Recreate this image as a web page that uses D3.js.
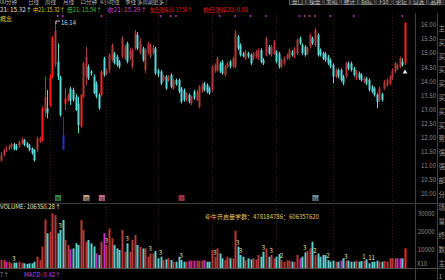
<!DOCTYPE html>
<html><head><meta charset="utf-8">
<script src="https://cdn.jsdelivr.net/npm/d3@7/dist/d3.min.js"></script>
<style>html,body{margin:0;padding:0;background:#000;overflow:hidden}svg{display:block}</style>
</head><body>
<svg id="c" width="445" height="280"></svg>
<script>
const opens = [
11.19,11.39,11.55,11.62,11.68,11.78,11.72,11.68,11.80,11.92,
11.80,11.74,11.63,11.57,11.57,11.88,11.90,12.93,13.05,13.16,
14.17,14.60,14.70,14.17,12.10,13.20,13.34,13.75,13.70,13.46,
13.22,12.40,13.46,14.17,14.52,14.35,14.17,13.93,13.52,13.52,
14.82,14.25,14.40,14.76,14.99,14.88,14.70,14.88,14.82,15.35,
14.82,14.52,15.17,15.65,14.99,15.17,14.40,15.00,
14.88,15.00,15.17,14.40,14.35,14.05,14.17,14.05,14.23,13.75,
14.05,14.05,13.75,13.70,13.34,13.52,13.22,13.64,13.34,13.10,
13.64,13.93,13.87,13.75,13.70,14.35,14.40,14.64,14.70,14.23,
14.52,14.70,14.52,14.52,15.59,15.29,14.99,14.82,15.00,14.94,
14.82,14.88,14.82,15.11,14.76,14.94,15.23,14.94,14.99,15.05,
14.99,14.52,14.64,14.82,14.82,15.05,14.88,15.00,15.53,
15.29,15.23,14.99,15.23,15.53,15.29,15.65,15.11,14.99,14.99,
14.88,14.76,14.58,14.17,14.40,14.40,14.17,14.17,14.64,14.64,
14.46,14.11,14.29,14.23,13.99,14.11,14.05,13.81,13.75,13.52,
13.34,13.55,13.75,13.87,13.93,14.11,14.35,14.45,14.52,14.70,14.64];
const closes = [
11.39,11.57,11.62,11.70,11.78,11.58,11.60,11.86,11.96,11.75,
11.68,11.57,11.45,11.21,11.98,11.96,13.05,13.45,12.87,14.17,
15.55,15.80,14.17,12.81,11.57,13.40,13.52,13.30,13.35,12.99,
12.45,13.52,14.64,14.88,14.11,14.28,13.58,13.46,13.05,14.35,
14.23,14.40,14.94,15.29,14.64,14.58,14.52,15.53,15.23,14.70,
15.10,15.11,15.71,15.17,15.45,14.76,15.11,15.35,
15.29,15.20,14.29,14.25,13.93,14.20,13.75,14.17,13.81,14.05,
13.90,13.64,13.28,13.34,13.58,13.28,13.46,13.40,13.64,13.81,
13.87,13.70,13.64,13.58,14.52,14.58,14.82,14.35,14.29,14.52,
14.64,14.52,14.82,15.71,15.17,14.94,14.90,15.05,14.88,14.64,
14.99,15.05,15.11,14.70,14.64,15.53,15.00,15.23,15.41,14.70,
14.52,14.76,14.82,14.94,15.11,14.94,15.17,15.47,15.35,
15.00,14.94,15.17,15.65,15.35,15.82,14.94,14.94,14.82,14.76,
14.64,14.52,14.17,14.40,14.17,14.05,13.93,14.64,14.46,14.40,
14.23,14.35,14.11,14.05,14.11,13.93,13.70,13.64,13.52,13.28,
13.75,13.35,13.99,14.05,14.17,14.40,14.64,14.58,14.82,14.58,16.07];
const highs = [
11.50,11.62,11.70,11.76,11.82,11.82,11.78,11.90,12.02,11.96,
11.85,11.78,11.66,11.60,12.04,12.05,13.10,14.17,13.70,14.25,
15.60,16.14,15.35,14.20,12.75,13.75,13.58,13.81,13.78,13.55,
13.46,13.55,14.70,15.23,14.60,14.40,14.25,14.00,13.58,14.40,
14.88,14.45,15.00,15.35,15.05,14.94,14.76,15.60,15.30,15.40,
15.20,15.17,15.82,15.75,15.53,15.23,15.17,15.40,
15.35,15.30,15.23,14.45,14.40,14.25,14.23,14.22,14.28,14.10,
14.10,14.10,13.80,13.75,13.62,13.58,13.50,13.70,13.70,13.87,
13.93,13.98,13.93,13.81,14.58,14.64,14.88,14.70,14.76,14.58,
14.70,14.76,14.88,15.82,15.65,15.35,15.05,15.11,15.05,14.99,
15.05,15.11,15.17,15.17,14.82,15.59,15.29,15.29,15.47,15.11,
15.05,14.82,14.88,14.99,15.17,15.11,15.23,15.53,15.59,
15.35,15.29,15.23,15.71,15.59,15.90,15.71,15.17,15.05,15.05,
14.94,14.82,14.64,14.46,14.46,14.46,14.23,14.70,14.70,14.70,
14.52,14.40,14.35,14.29,14.17,14.17,14.11,13.87,13.81,13.58,
13.81,13.60,14.05,14.11,14.23,14.46,14.70,14.64,14.88,14.82,16.10];
const lows = [
11.15,11.35,11.50,11.57,11.60,11.55,11.55,11.65,11.76,11.70,
11.64,11.52,11.40,11.15,11.50,11.82,11.85,12.75,12.69,13.10,
14.10,14.50,14.05,12.75,11.57,12.99,13.28,13.16,13.28,12.95,
12.16,12.35,13.40,13.87,14.05,14.20,13.55,13.40,12.99,13.46,
14.17,14.20,14.30,14.70,14.60,14.52,14.45,14.82,14.76,14.64,
14.76,14.45,15.11,15.11,14.95,14.70,14.30,14.95,
14.82,14.95,14.23,14.15,13.87,14.00,13.70,13.98,13.75,13.70,
13.85,13.58,13.22,13.28,13.28,13.22,13.16,13.34,13.30,13.05,
13.60,13.64,13.58,13.52,13.64,14.30,14.35,14.30,14.23,14.17,
14.46,14.46,14.46,14.46,15.11,14.88,14.85,14.76,14.82,14.58,
14.76,14.82,14.76,14.64,14.58,14.88,14.94,14.88,14.94,14.64,
14.46,14.46,14.58,14.76,14.76,14.88,14.82,14.94,15.29,
14.94,14.88,14.94,15.17,15.29,15.23,14.88,14.88,14.76,14.70,
14.58,14.46,13.93,14.11,14.11,13.99,13.87,14.11,14.40,14.35,
14.17,14.05,14.05,13.99,13.93,13.87,13.64,13.58,13.46,13.05,
13.28,13.28,13.70,13.81,13.87,14.05,14.29,14.40,14.46,14.52,14.58];
const volumes = [
4400,4400,3500,3500,2600,3000,3000,3500,3000,2600,
2200,2600,2600,3500,6300,4400,11900,27000,19300,20200,
30400,29400,19300,21100,26700,15600,12800,10400,10900,13700,
12800,26700,21100,14600,15600,13700,12000,8100,7200,14600,
19300,12800,22000,16500,12800,10900,10000,21100,9100,13700,
9100,15600,18300,12800,11900,10900,10900,6300,
8100,8100,9400,5400,6300,4400,4800,5400,4400,3500,
3500,6300,4400,3500,3500,4100,4100,4100,4100,4100,
4100,4400,3500,3500,10000,6300,10900,8100,5400,4400,
6300,5400,5400,20700,11900,7200,6300,4400,5400,4800,
5400,4800,7200,6300,9100,10900,6300,7200,5400,6300,
7800,4400,3500,4100,4100,3500,3500,7200,5400,
6300,8700,9400,10900,14600,7200,8100,6300,7200,7200,
4400,3500,4100,3500,3500,4100,5400,4100,4100,3500,
3500,4100,3500,3900,4100,4800,2600,3500,3500,4100,
3500,3500,3900,3500,5400,5400,5400,5400,5400,5400,10900];
const magentaDays = [2,27,37,40,73,75,79,116,132,154,155];
const blueDays = [24];
const volMarkIdx = [5,23,41,49,58,62,70,83,92,93,102,105,109,118,122,127,134,141,144];
const volMarkTxt = ["3","3","3","3","3","3","3","3","3","3","3","3","2","3","2","2","3","1","11"];
const topDotIdx = [22,24,39,62,66,68,85,91,97,103,116,118,120,122,128,137,156];
const signalIdx = [22,33,39,70,122];
const signalTxt = ["跌","腾","涨","1","财"];
const monthStarts = [19,41,61,82,107,129,152];
const priceTicks = [10,10.5,11,11.5,12,12.5,13,13.5,14,14.5,15,15.5,16];
const volTicks = [10000,20000,30000];
const sideChars = ["主","买","买","买","买","买","买","买","势","强","强","部","分","场","量","终","数","主","1"];
const tabsLeft = ["00分钟","日线","周线","月线","15分钟","4小时线","季线","多周期","更多 /"];
const tabsLeftX = [0,28,45,63,80,100,125,137,153];
const tabsRight = ["盘口","操盘","筹码","统计","指标","F10","论坛","自选","品种"];
const legendTxt = ["21: 15.32↑","中21: 15.32↑","低21: 15.54↑","收21: 15.29↑","前日涨停10: 17.58↑","前日涨停20: 0.00"];
const legendX = [0,33,67,107,150,203];
const legendW = [32,32,35,40,42,45];
const maxLabel = "16.14";
const volumeTitle = "VOLUME: 106350.28↑";
const groupText = "牵牛开启量学群：478184786：606357620";
const macdTitle = "MACD: 0.42↑";

const FONT = "'Noto Sans CJK SC','DejaVu Sans',sans-serif";
const legendCols = ["#e0e0e0","#e8d020","#40c040","#c040c0","#e02020","#e02020"];
const svg = d3.select('#c');
svg.append('rect').attr('width',445).attr('height',280).attr('fill','#000');
const N = opens.length;
const x = d3.scaleBand().domain(d3.range(N)).range([0,406]).paddingInner(0.25);
const cx = i => x(i) + x.bandwidth()/2;
const y = d3.scaleLinear().domain([10,16]).range([194.2,25]);
const yv = d3.scaleLinear().domain([0,30000]).range([268,214]);

// grid / separators
const g = svg.append('g');
g.selectAll('.vg').data(monthStarts).enter().append('line')
 .attr('x1',i=>Math.round(cx(i))+0.5).attr('x2',i=>Math.round(cx(i))+0.5)
 .attr('y1',14).attr('y2',268).attr('stroke','#3a1818').attr('stroke-dasharray','1,2');
g.append('line').attr('x1',0).attr('x2',445).attr('y1',203.5).attr('y2',203.5).attr('stroke','#3c3c3c');
g.append('line').attr('x1',0).attr('x2',445).attr('y1',268.5).attr('y2',268.5).attr('stroke','#505050');
g.append('line').attr('x1',415.5).attr('x2',415.5).attr('y1',13).attr('y2',280).attr('stroke','#404040');
g.append('line').attr('x1',437.5).attr('x2',437.5).attr('y1',13).attr('y2',280).attr('stroke','#404040');

// header tabs
const hdr = svg.append('g').attr('font-family',FONT);
tabsLeft.forEach((t,k)=>hdr.append('text').attr('x',tabsLeftX[k]).attr('y',3.5).attr('font-size',5.5).attr('fill','#b0b0b0').text(t));
tabsRight.forEach((t,k)=>{
  const bx = 289 + k*17.3;
  hdr.append('rect').attr('x',bx+0.5).attr('y',-3).attr('width',16).attr('height',7.5).attr('fill','#202020').attr('stroke','#555');
  hdr.append('text').attr('x',bx+8.5).attr('y',3.5).attr('text-anchor','middle').attr('font-size',5.5).attr('fill','#c0c0c0').text(t);
});
legendTxt.forEach((t,k)=>hdr.append('text').attr('x',legendX[k]).attr('y',11.5).attr('font-size',6)
  .attr('textLength',legendW[k]).attr('lengthAdjust','spacingAndGlyphs').attr('fill',legendCols[k]).text(t));
hdr.append('text').attr('x',0).attr('y',20.5).attr('font-size',6).attr('fill','#e0c040').text('概念');

// top marker dots
svg.append('g').selectAll('circle').data(topDotIdx).enter().append('circle')
 .attr('cx',i=>cx(i)).attr('cy',16).attr('r',0.9).attr('fill','#c040c0');

// candles
const pc = i => i>0 ? closes[i-1] : opens[i];
const candleColor = i => {
  if (blueDays.includes(i)) return '#2233cc';
  if (closes[i] >= opens[i]) return ((closes[i]-pc(i))/pc(i) > 0.085) ? '#ff2020' : '#b03838';
  return '#5ed6d6';
};
const cg = svg.append('g');
d3.range(N).forEach(i=>{
  const col = candleColor(i);
  const xc = Math.round(cx(i)) + 0.5;
  cg.append('line').attr('x1',xc).attr('x2',xc).attr('y1',y(highs[i])).attr('y2',y(lows[i])).attr('stroke',col).attr('stroke-width',1);
  const top = y(Math.max(opens[i],closes[i])), bot = y(Math.min(opens[i],closes[i]));
  cg.append('rect').attr('x',xc-1).attr('y',top).attr('width',2).attr('height',Math.max(1,bot-top)).attr('fill',col);
});

// max label
const mi = highs.indexOf(d3.max(highs));
svg.append('line').attr('x1',cx(mi)+1).attr('x2',cx(mi)+5).attr('y1',y(highs[mi])).attr('y2',y(highs[mi])).attr('stroke','#c0c0c0');
svg.append('line').attr('x1',cx(mi)+1).attr('x2',cx(mi)+1).attr('y1',y(highs[mi])).attr('y2',y(highs[mi])+3).attr('stroke','#c0c0c0');
svg.append('text').attr('x',cx(mi)+6).attr('y',y(highs[mi])+4).attr('font-family',FONT).attr('font-size',6).attr('fill','#d0d0d0').text(maxLabel);

// triangle below last candle
const li = N-1;
svg.append('path').attr('d',d3.symbol(d3.symbolTriangle,10)()).attr('transform',`translate(${cx(li)},${y(lows[li])+7})`).attr('fill','#e0e0e0');

// price axis
const ax = svg.append('g').attr('font-family',FONT).attr('font-size',6).attr('fill','#8c8c8c');
priceTicks.forEach(p=>ax.append('text').attr('x',421).attr('y',y(p)+2.2).text(p.toFixed(2)));
volTicks.forEach(v=>ax.append('text').attr('x',418).attr('y',yv(v)+2.2).text(v));
ax.append('text').attr('x',417).attr('y',266).text('X10');

// side chars
const sc = svg.append('g').attr('font-family',FONT).attr('font-size',6.5).attr('fill','#9a9a9a');
sideChars.forEach((t,k)=>sc.append('text').attr('x',438.5).attr('y',31+k*13.8).text(t));

// signal boxes
const boxCols = ['#2a8a3a','#c8a888','#c86a88','#a03040','#708aa0'];
signalIdx.forEach((i,k)=>{
  svg.append('rect').attr('x',cx(i)-2.5).attr('y',195).attr('width',6).attr('height',6).attr('fill',boxCols[k]);
  svg.append('text').attr('x',cx(i)+0.5).attr('y',200.5).attr('text-anchor','middle').attr('font-family',FONT).attr('font-size',5).attr('fill','#202020').text(signalTxt[k]);
});

// volume
const vcol = i => {
  if (magentaDays.includes(i)) return '#c030c0';
  if (i===N-1) return '#ff2020';
  return closes[i] >= opens[i] ? '#b83838' : '#5ccccc';
};
svg.append('g').selectAll('rect').data(d3.range(N)).enter().append('rect')
 .attr('x',i=>Math.round(cx(i))-0.5).attr('width',2)
 .attr('y',i=>yv(volumes[i])).attr('height',i=>268-yv(volumes[i])).attr('fill',vcol);
svg.append('g').selectAll('text').data(volMarkIdx).enter().append('text')
 .attr('x',i=>cx(i)).attr('y',i=>yv(volumes[i])-2).attr('text-anchor','middle')
 .attr('font-family',FONT).attr('font-size',6).attr('fill','#e8e0a0').text((d,k)=>volMarkTxt[k]);

const tt = svg.append('g').attr('font-family',FONT).attr('font-size',6);
tt.append('text').attr('x',0).attr('y',208.5).attr('fill','#e8e0b0').text(volumeTitle);
tt.append('text').attr('x',205).attr('y',219).attr('fill','#e8c860').text(groupText);
tt.append('text').attr('x',0).attr('y',276.5).attr('fill','#909090').text('7↑');
tt.append('text').attr('x',24).attr('y',276.5).attr('fill','#c040e8').text(macdTitle);
</script>
</body></html>
